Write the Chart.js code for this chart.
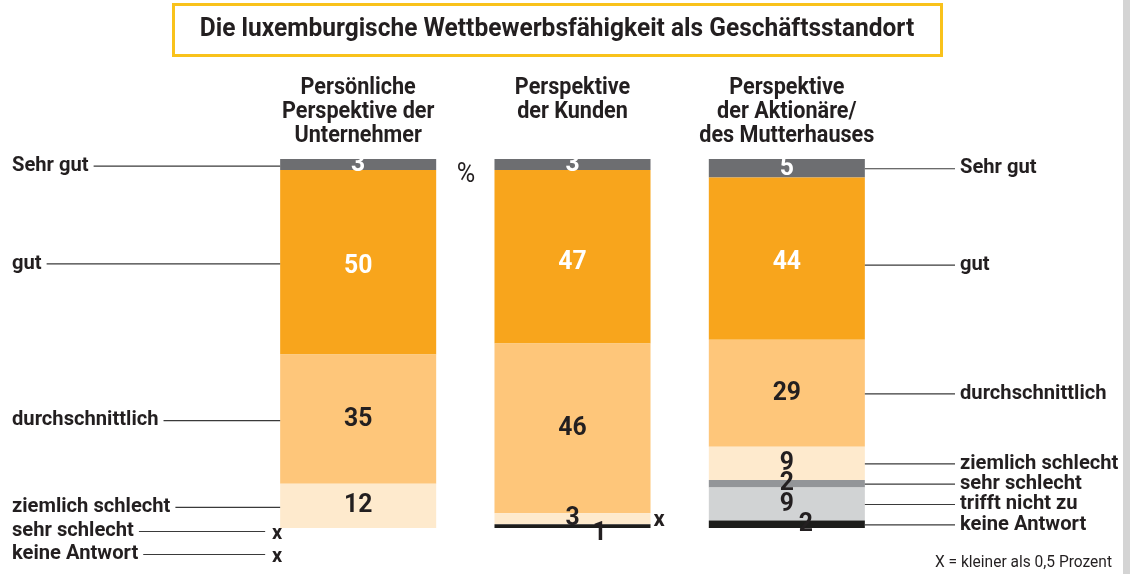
<!DOCTYPE html>
<html>
<head>
<meta charset="utf-8">
<script src="https://cdn.jsdelivr.net/npm/chart.js@4.4.1/dist/chart.umd.min.js"></script>
<style>
  html, body { margin: 0; padding: 0; background: #fff; }
  #wrap { width: 1141px; height: 574px; position: relative; }
</style>
</head>
<body>
<div id="wrap"><canvas id="chart" width="1141" height="574"></canvas></div>
<script>
// columns (survey perspectives)
const columns = [
    ['Persönliche', 'Perspektive der', 'Unternehmer'],
    ['Perspektive', 'der Kunden'],
    ['Perspektive', 'der Aktionäre/', 'des Mutterhauses']
];

// answer shares in %, 0 = "x" (kleiner als 0,5 Prozent), null = not asked
const sehrGut = [3, 3, 5];
const gut = [50, 47, 44];
const durchschnittlich = [35, 46, 29];
const ziemlichSchlecht = [12, 3, 9];
const sehrSchlecht = [0, 0, 2];
const trifftNichtZu = [null, null, 9];
const keineAntwort = [0, 1, 2];

const title = 'Die luxemburgische Wettbewerbsfähigkeit als Geschäftsstandort';
const footnote = 'X = kleiner als 0,5 Prozent';

const SQ = 0.96; // slight horizontal squeeze for a condensed look
const DARK = '#231f20';

function txt(ctx, s, x, y, o) {
    const sx = o.sx === undefined ? SQ : o.sx;
    ctx.save();
    ctx.font = (o.weight || 'bold') + ' ' + o.size + 'px Roboto';
    ctx.fillStyle = o.color || DARK;
    ctx.textBaseline = 'middle';
    ctx.textAlign = o.align || 'left';
    ctx.translate(x, y);
    ctx.scale(sx, 1);
    ctx.fillText(s, 0, 0);
    const w = ctx.measureText(s).width * sx;
    ctx.restore();
    return w;
}

function hline(ctx, x1, x2, y) {
    ctx.save();
    ctx.strokeStyle = '#3a3a3a';
    ctx.lineWidth = 1.2;
    ctx.beginPath();
    ctx.moveTo(x1, y + 0.5);
    ctx.lineTo(x2, y + 0.5);
    ctx.stroke();
    ctx.restore();
}

// label nudges: [dataset label, column] -> [dx, dy]
const nudges = {
    'gut|0': [0, 4],
    'gut|1': [0, 6],
    'gut|2': [0, 4],
    'keine Antwort|1': [27, 7],
    'keine Antwort|2': [19, 0]
};

const annotations = {
    id: 'annotations',
    afterDraw(chart) {
        const ctx = chart.ctx;

        // page edge
        ctx.fillStyle = '#d4d4d4';
        ctx.fillRect(1123, 0, 7, 574);

        // title box
        ctx.save();
        ctx.strokeStyle = '#f9c21b';
        ctx.lineWidth = 3;
        ctx.strokeRect(173.5, 4.5, 768, 51);
        ctx.restore();
        txt(ctx, title, 557, 30, {size: 25, align: 'center', sx: 0.98});

        // column headers
        const xs = chart.getDatasetMeta(0).data.map(b => b.x);
        columns.forEach((lines, i) => {
            lines.forEach((l, j) => txt(ctx, l, xs[i], 88 + j * 24, {size: 24, align: 'center', sx: 0.9}));
        });
        txt(ctx, '%', 466, 175, {size: 28, weight: 'normal', align: 'center', sx: 0.9});

        // values in the bars
        chart.data.datasets.forEach((ds, di) => {
            const meta = chart.getDatasetMeta(di);
            meta.data.forEach((bar, i) => {
                const v = ds.data[i];
                if (v === null) return;
                const half = bar.width / 2;
                if (v === 0) {
                    if (i === 1) txt(ctx, 'x', bar.x + half + 3, bar.y - 4, {size: 22, sx: 1});
                    return;
                }
                const n = nudges[ds.label + '|' + i] || [0, 0];
                txt(ctx, String(v), bar.x + n[0], (bar.y + bar.base) / 2 + n[1],
                    {size: 26, align: 'center', sx: 0.95, color: ds.textColor});
            });
        });

        // left legend, from the first column
        const left = chart.data.datasets.slice().reverse();
        const b0 = chart.getDatasetMeta(0).data[0];
        const barLeft = b0.x - b0.width / 2;
        let extraY = 531;
        left.forEach(ds => {
            const v = ds.data[0];
            if (v === null) return;
            const bar = chart.getDatasetMeta(chart.data.datasets.indexOf(ds)).data[0];
            if (v === 0) {
                const w = txt(ctx, ds.label, 12, extraY, {size: 21});
                hline(ctx, 12 + w + 5, barLeft - 15, extraY);
                txt(ctx, 'x', barLeft - 3, extraY + 3, {size: 20, sx: 1, align: 'center'});
                extraY += 23;
                return;
            }
            const y = (bar.y + bar.base) / 2 + 1;
            const w = txt(ctx, ds.label, 12, y, {size: 21});
            hline(ctx, 12 + w + 5, barLeft, y);
        });

        // right legend, from the third column
        const b2 = chart.getDatasetMeta(0).data[2];
        const barRight = b2.x + b2.width / 2;
        left.forEach(ds => {
            if (ds.data[2] === null) return;
            const bar = chart.getDatasetMeta(chart.data.datasets.indexOf(ds)).data[2];
            const n = ds.label === 'gut' ? 6 : 0;
            const y = (bar.y + bar.base) / 2 + n;
            txt(ctx, ds.label, 960, y, {size: 21});
            hline(ctx, barRight, 955, y);
        });

        txt(ctx, footnote, 1112, 563, {size: 16, weight: 'normal', align: 'right', sx: 0.97});
    }
};

new Chart(document.getElementById('chart'), {
    type: 'bar',
    data: {
        labels: columns.map(c => c.join(' ')),
        datasets: [
            {label: 'keine Antwort', data: keineAntwort, backgroundColor: '#1d1d1b', textColor: DARK},
            {label: 'trifft nicht zu', data: trifftNichtZu, backgroundColor: '#d1d3d4', textColor: DARK},
            {label: 'sehr schlecht', data: sehrSchlecht, backgroundColor: '#939598', textColor: DARK},
            {label: 'ziemlich schlecht', data: ziemlichSchlecht, backgroundColor: '#feeacd', textColor: DARK},
            {label: 'durchschnittlich', data: durchschnittlich, backgroundColor: '#fec67a', textColor: DARK},
            {label: 'gut', data: gut, backgroundColor: '#f8a51c', textColor: '#ffffff'},
            {label: 'Sehr gut', data: sehrGut, backgroundColor: '#6d6e71', textColor: '#ffffff'}
        ]
    },
    options: {
        responsive: false,
        animation: false,
        layout: {padding: {left: 251, right: 247, top: 159, bottom: 46}},
        datasets: {bar: {categoryPercentage: 1, barPercentage: 0.728, borderWidth: 0}},
        plugins: {legend: {display: false}, tooltip: {enabled: false}},
        scales: {
            x: {stacked: true, display: false},
            y: {stacked: true, display: false, min: 0, max: 100}
        }
    },
    plugins: [annotations]
});
</script>
</body>
</html>
